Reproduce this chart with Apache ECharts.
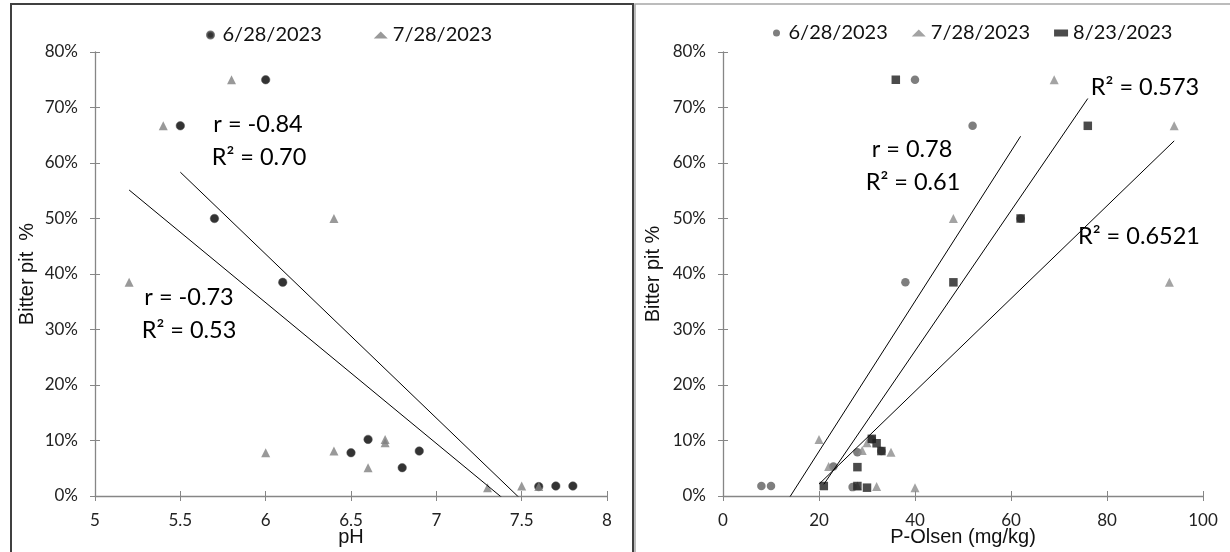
<!DOCTYPE html>
<html>
<head>
<meta charset="utf-8">
<script src="https://cdn.jsdelivr.net/npm/echarts@6/dist/echarts.min.js"></script>
<style>
  html, body { margin: 0; padding: 0; background: #fff; }
  #chart { width: 1230px; height: 552px; }
</style>
</head>
<body>
<div id="chart"></div>
<script>
// pH vs bitter pit (left panel)
const ph0628 = [5.5, 5.7, 6.0, 6.1, 6.5, 6.6, 6.8, 6.9, 7.6, 7.7, 7.8];
const bp0628 = [66.7, 50.0, 75.0, 38.5, 7.8, 10.2, 5.1, 8.1, 1.7, 1.8, 1.8];
const ph0728 = [5.2, 5.4, 5.8, 6.0, 6.4, 6.4, 6.6, 6.7, 6.7, 7.3, 7.5, 7.6];
const bp0728 = [38.5, 66.7, 75.0, 7.8, 50.0, 8.1, 5.1, 10.2, 9.6, 1.5, 1.8, 1.7];

// P-Olsen vs bitter pit (right panel)
const ol0628 = [8, 10, 23, 27, 28, 31, 33, 38, 40, 52, 62];
const olBp0628 = [1.8, 1.8, 5.3, 1.6, 7.9, 10.2, 8.1, 38.5, 75.0, 66.7, 50.0];
const ol0728 = [20, 22, 28, 29, 30, 32, 35, 40, 48, 69, 93, 94];
const olBp0728 = [10.2, 5.3, 1.8, 8.2, 9.6, 1.7, 7.9, 1.5, 50.0, 75.0, 38.5, 66.7];
const ol0823 = [21, 28, 28, 30, 31, 32, 33, 36, 48, 62, 76];
const olBp0823 = [1.8, 5.2, 1.8, 1.5, 10.3, 9.5, 8.1, 75.0, 38.5, 50.0, 66.7];

const dates = ['6/28/2023', '7/28/2023', '8/23/2023'];
const yTicks = [0, 80, 10];

const pairs = (xs, ys) => xs.map((x, i) => [x, ys[i]]);

// least squares line, drawn from min x to max x like an Excel trendline
function trend(xs, ys) {
  const n = xs.length;
  const mx = xs.reduce((a, b) => a + b, 0) / n;
  const my = ys.reduce((a, b) => a + b, 0) / n;
  let sxy = 0, sxx = 0;
  xs.forEach((x, i) => { sxy += (x - mx) * (ys[i] - my); sxx += (x - mx) * (x - mx); });
  const b = sxy / sxx;
  const a = my - b * mx;
  const x0 = Math.min(...xs), x1 = Math.max(...xs);
  return [[x0, a + b * x0], [x1, a + b * x1]];
}

const FONT = 'Lato';
const TITLE_FONT = 'Liberation Sans';
const axisGrey = '#868686';

function valueAxes(grid, min, max, interval, name, gap) {
  return [
    {
      type: 'value', gridIndex: grid, position: 'bottom', min, max, interval,
      name, nameLocation: 'middle', nameGap: gap, nameMoveOverlap: false,
      nameTextStyle: { fontSize: 20, color: '#111', fontFamily: TITLE_FONT },
      axisLine: { lineStyle: { color: axisGrey, width: 1.3 } },
      axisTick: { show: true, length: 5, lineStyle: { color: axisGrey } },
      axisLabel: { fontSize: 17, color: '#222', margin: 16, fontFamily: FONT },
      splitLine: { show: false }
    },
    {
      type: 'value', gridIndex: grid, position: 'bottom', min, max, interval,
      axisLine: { show: false },
      axisTick: { show: true, inside: true, length: 5, lineStyle: { color: axisGrey } },
      axisLabel: { show: false },
      splitLine: { show: false }
    }
  ];
}

function pctAxes(grid, name, gap) {
  return [
    {
      type: 'value', gridIndex: grid, position: 'left',
      min: yTicks[0], max: yTicks[1], interval: yTicks[2],
      name, nameLocation: 'middle', nameGap: gap, nameRotate: 90,
      nameTextStyle: { fontSize: 20, color: '#111', fontFamily: TITLE_FONT },
      axisLine: { show: true, lineStyle: { color: axisGrey, width: 1.3 } },
      axisTick: { show: true, length: 5, lineStyle: { color: axisGrey } },
      axisLabel: { fontSize: 17, color: '#222', margin: 17, formatter: '{value}%', fontFamily: FONT },
      splitLine: { show: false }
    },
    {
      type: 'value', gridIndex: grid, position: 'left',
      min: yTicks[0], max: yTicks[1], interval: yTicks[2],
      axisLine: { show: false },
      axisTick: { show: true, inside: true, length: 5, lineStyle: { color: axisGrey } },
      axisLabel: { show: false },
      splitLine: { show: false }
    }
  ];
}

function scatter(name, x, y, data, symbol, size, style) {
  return { name, type: 'scatter', xAxisIndex: x, yAxisIndex: y, data, symbol, symbolSize: size, itemStyle: style, z: 3 };
}
function fitLine(x, y, data) {
  return {
    type: 'line', xAxisIndex: x, yAxisIndex: y, data, symbol: 'none', clip: true, silent: true,
    lineStyle: { color: '#000', width: 1 }, z: 4
  };
}

function note(text, x, y) {
  return {
    type: 'text', x, y, z: 10,
    style: { text, font: '23.5px ' + FONT, fill: '#000', align: 'center', verticalAlign: 'middle' }
  };
}

const legendText = { fontSize: 20, color: '#111', fontFamily: FONT };

const chart = echarts.init(document.getElementById('chart'));
chart.setOption({
  animation: false,
  textStyle: { fontFamily: FONT },
  graphic: [
    { type: 'rect', shape: { x: 11, y: 4, width: 622, height: 560 }, style: { fill: 'none', stroke: '#404040', lineWidth: 2 } },
    { type: 'rect', shape: { x: 635, y: 4, width: 600, height: 560 }, style: { fill: 'none', stroke: '#a6a6a6', lineWidth: 1.5 } },
    note('r = -0.84', 258, 124),
    note('R\u00b2 = 0.70', 259, 157),
    note('r = -0.73', 189, 297),
    note('R\u00b2 = 0.53', 189, 330),
    note('r = 0.78', 912, 149),
    note('R\u00b2 = 0.61', 913, 182),
    note('R\u00b2 = 0.573', 1145, 87),
    note('R\u00b2 = 0.6521', 1139, 236)
  ],
  legend: [
    {
      left: 201, top: 20, itemWidth: 14, itemHeight: 7, itemGap: 52,
      data: ['L ' + dates[0], 'L ' + dates[1]],
      formatter: (n) => n.slice(2),
      textStyle: legendText
    },
    {
      left: 768, top: 18, itemWidth: 14, itemHeight: 7, itemGap: 24,
      data: ['R ' + dates[0], 'R ' + dates[1], 'R ' + dates[2]],
      formatter: (n) => n.slice(2),
      textStyle: legendText
    }
  ],
  grid: [
    { left: 95, top: 52, width: 512, height: 444, outerBoundsMode: 'none' },
    { left: 723, top: 52, width: 480, height: 444, outerBoundsMode: 'none' }
  ],
  xAxis: [
    ...valueAxes(0, 5, 8, 0.5, 'pH', 31),
    ...valueAxes(1, 0, 100, 20, 'P-Olsen (mg/kg)', 31)
  ],
  yAxis: [
    ...pctAxes(0, 'Bitter pit  %', 58),
    ...pctAxes(1, 'Bitter pit %', 60)
  ],
  series: [
    scatter('L ' + dates[0], 0, 0, pairs(ph0628, bp0628), 'circle', 8.5, { color: '#000', borderColor: '#555', borderWidth: 0.6 }),
    scatter('L ' + dates[1], 0, 0, pairs(ph0728, bp0728), 'triangle', 9, { color: '#808080' }),
    fitLine(0, 0, trend(ph0628, bp0628)),
    fitLine(0, 0, trend(ph0728, bp0728)),
    scatter('R ' + dates[0], 2, 2, pairs(ol0628, olBp0628), 'circle', 8.5, { color: '#5e5e5e' }),
    scatter('R ' + dates[1], 2, 2, pairs(ol0728, olBp0728), 'triangle', 9, { color: '#8c8c8c' }),
    scatter('R ' + dates[2], 2, 2, pairs(ol0823, olBp0823), 'rect', 8.5, { color: '#1e1e1e' }),
    fitLine(2, 2, trend(ol0628, olBp0628)),
    fitLine(2, 2, trend(ol0728, olBp0728)),
    fitLine(2, 2, trend(ol0823, olBp0823))
  ]
});
</script>
</body>
</html>
